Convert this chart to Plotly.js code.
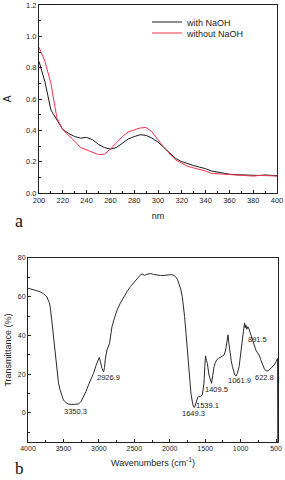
<!DOCTYPE html>
<html>
<head>
<meta charset="utf-8">
<script src="https://cdn.plot.ly/plotly-3.0.1.min.js"></script>
<style>html,body{margin:0;padding:0;background:#fff;}#chart{width:285px;height:480px;}</style>
</head>
<body>
<div id="chart"></div>
<script>
// ---- UV-Vis (a) ----
const nm = [200,205,210,215,220,225,230,235,240,245,250,255,260,265,270,275,280,285,290,295,300,305,310,315,320,325,330,335,340,345,350,355,360,365,370,375,380,385,390,395,400];
const withNaOH = [0.84,0.71,0.53,0.465,0.405,0.38,0.36,0.35,0.355,0.34,0.31,0.29,0.28,0.29,0.32,0.345,0.36,0.372,0.368,0.35,0.325,0.29,0.25,0.22,0.2,0.185,0.175,0.165,0.155,0.14,0.132,0.125,0.12,0.117,0.115,0.113,0.11,0.112,0.115,0.112,0.11];
const withoutNaOH = [0.93,0.84,0.70,0.48,0.405,0.37,0.33,0.29,0.275,0.26,0.245,0.248,0.28,0.32,0.36,0.39,0.405,0.415,0.418,0.39,0.34,0.29,0.25,0.21,0.19,0.17,0.16,0.15,0.14,0.125,0.123,0.12,0.117,0.115,0.113,0.11,0.108,0.112,0.113,0.11,0.108];
const seriesNames = ['with NaOH','without NaOH'];

// ---- FTIR (b) ----
const wavenumber = [4000,3900,3830,3780,3735,3700,3688,3665,3641,3618,3594,3570,3547,3520,3500,3460,3429,3380,3330,3287,3250,3217,3180,3146,3110,3075,3037,3010,2994,2975,2956,2933,2920,2910,2886,2849,2815,2780,2744,2700,2650,2600,2555,2500,2460,2420,2390,2370,2357,2330,2300,2272,2230,2180,2130,2080,2040,1989,1950,1918,1890,1871,1845,1823,1805,1790,1770,1752,1733,1715,1700,1681,1665,1650,1635,1620,1605,1588,1565,1540,1528,1517,1505,1495,1482,1469,1446,1425,1410,1392,1375,1355,1337,1310,1280,1255,1233,1210,1190,1178,1165,1149,1132,1115,1095,1082,1062,1045,1021,1000,983,960,945,935,925,912,900,889,878,865,850,832,810,785,760,738,715,691,665,643,620,595,572,550,525,500,478,475];
const transmittance = [64.4,63.5,62.6,61.5,60,57,55,48,39.4,29,20.5,15.5,11.9,8.5,6.7,5.2,4.6,4.4,4.5,4.6,6,8.4,11.2,14.5,17.5,20.5,24.8,28,28.7,26,23,21.3,23.5,27.4,32.5,36,44.5,49,53,56.5,60,62.8,65.2,67.8,69.5,71,71.8,71.2,71,71.5,71.8,72,71.5,71.2,71,71,71.2,71.4,71.2,70.4,68.8,67,64,60,55,49.7,41,32.5,24,15.3,10,5.8,3.2,2.9,4.5,6.7,8,8.4,8.6,9.3,12,15.3,24,29.5,27,25.6,19.6,16.5,15.3,19.5,23.9,26,27.4,28.2,29,29.5,29.9,32.5,37,40.3,36,30.8,27,23.9,21,19.6,19.1,20.5,23.9,30,37.7,43,46.5,44,45.5,43.2,44.5,44.2,43,42,40,37.7,35,32.5,31,29.9,27.5,24.8,22.8,21.8,21.7,22.2,23,23.8,24.8,26.5,28.2,-20];
const peakLabels = ['3350.3','2926.9','1649.3','1539.1','1409.5','1061.9','891.5','622.8'];
const peakLabelX = [3327,2867,1667,1474,1333,1022,768,669];
const peakLabelY = [0.7,18.2,-0.2,3.8,12.2,16.5,38,18.2];

const FONT = 'Liberation Sans, Arial, sans-serif';
const INK = '#222';

const traces = [
  {x: nm, y: withNaOH, name: seriesNames[0], type: 'scatter', mode: 'lines',
   line: {color: '#1a1a1a', width: 1}, xaxis: 'x', yaxis: 'y', legend: 'legend'},
  {x: nm, y: withoutNaOH, name: seriesNames[1], type: 'scatter', mode: 'lines',
   line: {color: '#f2334d', width: 1}, xaxis: 'x', yaxis: 'y', legend: 'legend2'},
  {x: wavenumber, y: transmittance, name: 'FTIR', type: 'scatter', mode: 'lines',
   line: {color: '#2a2a2a', width: 1}, xaxis: 'x2', yaxis: 'y2', showlegend: false}
];

const axBase = {
  showgrid: false, zeroline: false, showline: true, linecolor: INK, linewidth: 1,
  mirror: true, ticks: 'inside', ticklen: 3, tickcolor: INK, tickwidth: 1,
  tickfont: {family: FONT, size: 7.5, color: INK}
};

const annotations = peakLabels.map((t, i) => ({
  text: t, x: peakLabelX[i], y: peakLabelY[i], xref: 'x2', yref: 'y2',
  showarrow: false, font: {family: FONT, size: 7.5, color: INK}
}));
annotations.push({text: 'a', xref: 'paper', yref: 'paper', x: 19/285, y: 1 - 221/480,
  xanchor: 'center', yanchor: 'middle',
  showarrow: false, font: {family: 'Liberation Serif, serif', size: 18, color: '#111'}});
annotations.push({text: 'b', xref: 'paper', yref: 'paper', x: 19/285, y: 1 - 468/480,
  xanchor: 'center', yanchor: 'middle',
  showarrow: false, font: {family: 'Liberation Serif, serif', size: 17, color: '#111'}});

const layout = {
  width: 285, height: 480,
  margin: {l: 0, r: 0, t: 0, b: 0},
  paper_bgcolor: '#fff', plot_bgcolor: '#fff',
  showlegend: true,
  xaxis: Object.assign({}, axBase, {
    domain: [39/285, 277/285], anchor: 'y', range: [200, 400],
    dtick: 20, tick0: 200, minor: {dtick: 10, ticks: 'inside', ticklen: 2, tickcolor: INK},
    title: {text: 'nm', font: {family: FONT, size: 9, color: INK}, standoff: 8}
  }),
  yaxis: Object.assign({}, axBase, {
    domain: [1 - 193/480, 1 - 5/480], anchor: 'x', range: [0, 1.2],
    dtick: 0.2, tick0: 0, tickformat: '.1f',
    minor: {dtick: 0.1, ticks: 'inside', ticklen: 2, tickcolor: INK},
    title: {text: 'A', font: {family: FONT, size: 10, color: INK}, standoff: 12}
  }),
  xaxis2: Object.assign({}, axBase, {
    domain: [28/285, 278/285], anchor: 'y2', range: [4000, 472],
    dtick: 500, tick0: 0, minor: {dtick: 250, ticks: 'inside', ticklen: 2, tickcolor: INK},
    tickfont: {family: FONT, size: 7, color: INK},
    title: {text: 'Wavenumbers (cm<sup>-1</sup>)', font: {family: FONT, size: 9, color: INK}, standoff: 8}
  }),
  yaxis2: Object.assign({}, axBase, {
    domain: [1 - 442/480, 1 - 258/480], anchor: 'x2', range: [-15, 80],
    dtick: 20, tick0: 0, minor: {dtick: 10, ticks: 'inside', ticklen: 2, tickcolor: INK},
    tickfont: {family: FONT, size: 7, color: INK},
    title: {text: 'Transmittance (%)', font: {family: FONT, size: 9, color: INK}, standoff: 4}
  }),
  legend: {x: 147/285, xanchor: 'left', y: 1 - 22/480, yanchor: 'middle',
    bgcolor: 'rgba(0,0,0,0)', borderwidth: 0, font: {family: FONT, size: 9, color: INK}},
  legend2: {x: 147/285, xanchor: 'left', y: 1 - 33/480, yanchor: 'middle',
    bgcolor: 'rgba(0,0,0,0)', borderwidth: 0, font: {family: FONT, size: 9, color: INK}},
  annotations: annotations
};

Plotly.newPlot('chart', traces, layout, {staticPlot: true, displayModeBar: false});
</script>
</body>
</html>
